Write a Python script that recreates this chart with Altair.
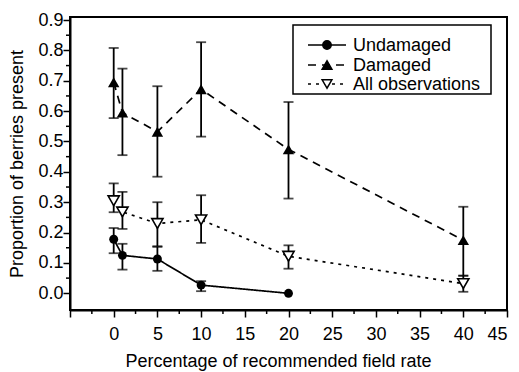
import altair as alt
import pandas as pd

# ---- data ----
x_und = [0, 1, 5, 10, 20]
und_mean = [0.178, 0.125, 0.113, 0.027, 0.0]
und_lo = [0.132, 0.078, 0.074, 0.007, 0.0]
und_hi = [0.215, 0.163, 0.153, 0.040, 0.0]

x_all = [0, 1, 5, 10, 20, 40]
dam_mean = [0.695, 0.595, 0.532, 0.672, 0.474, 0.175]
dam_lo = [0.577, 0.455, 0.384, 0.516, 0.312, 0.058]
dam_hi = [0.808, 0.740, 0.682, 0.827, 0.630, 0.285]

obs_mean = [0.305, 0.268, 0.230, 0.242, 0.122, 0.032]
obs_lo = [0.267, 0.212, 0.155, 0.166, 0.081, 0.005]
obs_hi = [0.362, 0.334, 0.300, 0.323, 0.158, 0.058]

series_names = ["Undamaged", "Damaged", "All observations"]
x_ticks = [-5, 0, 5, 10, 15, 20, 25, 30, 35, 40, 45]
x_minor = [-2.5, 2.5, 7.5, 12.5, 17.5, 22.5, 27.5, 32.5, 37.5, 42.5]
y_ticks = [0.0, 0.1, 0.2, 0.3, 0.4, 0.5, 0.6, 0.7, 0.8, 0.9]
y_minor = [0.05, 0.15, 0.25, 0.35, 0.45, 0.55, 0.65, 0.75, 0.85]

rows = []
for i, x in enumerate(x_und):
    rows.append(dict(series="Undamaged", x=x, y=und_mean[i], lo=und_lo[i], hi=und_hi[i]))
for i, x in enumerate(x_all):
    rows.append(dict(series="Damaged", x=x, y=dam_mean[i], lo=dam_lo[i], hi=dam_hi[i]))
for i, x in enumerate(x_all):
    rows.append(dict(series="All observations", x=x, y=obs_mean[i], lo=obs_lo[i], hi=obs_hi[i]))
df = pd.DataFrame(rows)

W, H = 437, 293
FONT = "Liberation Sans"

xs = alt.Scale(domain=[-5, 45], nice=False, zero=False)
ys = alt.Scale(domain=[-0.055, 0.91], nice=False, zero=False)

xaxis = alt.Axis(
    values=x_ticks, labelExpr="datum.value < 0 ? '' : datum.label",
    title="Percentage of recommended field rate", grid=False, labelOverlap=False,
    tickSize=7, tickWidth=1.5, labelPadding=8, titlePadding=9, titleX=208)
yaxis = alt.Axis(
    values=y_ticks, format=".1f", title="Proportion of berries present", grid=False,
    labelOverlap=False, tickSize=7, tickWidth=1.5, labelPadding=0, titlePadding=11)

X = alt.X("x:Q", scale=xs, axis=xaxis)
Y = alt.Y("y:Q", scale=ys, axis=yaxis)
YLO = alt.Y("lo:Q", scale=ys, axis=yaxis)
YHI = alt.Y("hi:Q", scale=ys, axis=yaxis)

base = alt.Chart(df)

dash_map = {"Undamaged": [1, 0], "Damaged": [8, 6], "All observations": [3, 5]}
layers = []
for name in series_names:
    sub = base.transform_filter(alt.datum.series == name)
    layers.append(sub.mark_line(color="black", strokeWidth=1.7,
                                strokeDash=dash_map[name]).encode(x=X, y=Y))

eb = base.transform_filter("datum.hi > datum.lo")
layers.append(eb.mark_rule(color="black", strokeWidth=1.8).encode(x=X, y=YLO, y2="hi:Q"))
layers.append(eb.mark_tick(color="black", thickness=1.8, size=10, orient="horizontal").encode(x=X, y=YLO))
layers.append(eb.mark_tick(color="black", thickness=1.8, size=10, orient="horizontal").encode(x=X, y=YHI))

layers.append(base.transform_filter(alt.datum.series == "Undamaged").mark_point(
    shape="circle", filled=True, color="black", size=80, opacity=1).encode(x=X, y=Y))
layers.append(base.transform_filter(alt.datum.series == "Damaged").mark_point(
    shape="triangle-up", filled=True, color="black", size=130, opacity=1).encode(x=X, y=Y))
layers.append(base.transform_filter(alt.datum.series == "All observations").mark_point(
    shape="triangle-down", filled=True, fill="white", stroke="black", strokeWidth=1.6,
    size=125, opacity=1).encode(x=X, y=Y))

# minor ticks
mx = pd.DataFrame({"x": x_minor})
layers.append(alt.Chart(mx).mark_rule(color="black", strokeWidth=1.5).encode(
    x=X, y=alt.value(H), y2=alt.value(H + 4)))
my = pd.DataFrame({"y": y_minor})
layers.append(alt.Chart(my).mark_rule(color="black", strokeWidth=1.5).encode(
    y=Y, x=alt.value(-4), x2=alt.value(0)))

# legend box
lg = pd.DataFrame({"series": series_names})
layers.append(alt.Chart(lg).transform_filter(alt.datum.series == "Undamaged").mark_rect(
    fill="white", stroke="black", strokeWidth=1.5).encode(
    x=alt.value(223), x2=alt.value(421), y=alt.value(8), y2=alt.value(77)))
leg_y = [28, 48, 67]
leg_shape = [("circle", "black", 70), ("triangle-up", "black", 95), ("triangle-down", "white", 95)]
for i, name in enumerate(series_names):
    one = alt.Chart(lg).transform_filter(alt.datum.series == name)
    layers.append(one.mark_rule(color="black", strokeWidth=1.6, strokeDash=dash_map[name]).encode(
        x=alt.value(238), x2=alt.value(276), y=alt.value(leg_y[i])))
    shp, fill, sz = leg_shape[i]
    layers.append(one.mark_point(shape=shp, filled=True, fill=fill, stroke="black",
                                 strokeWidth=1.5, size=sz, opacity=1).encode(
        x=alt.value(257), y=alt.value(leg_y[i])))
    layers.append(one.mark_text(align="left", baseline="middle", font=FONT, fontSize=18,
                                color="black").encode(
        x=alt.value(283), y=alt.value(leg_y[i] + 1), text="series:N"))

chart = alt.layer(*layers).properties(
    width=W, height=H,
    padding={"left": 70, "top": 17, "right": 12, "bottom": 62},
    autosize="none",
    background="white",
).configure_view(stroke="black", strokeWidth=2).configure_axis(
    domainColor="black", domainWidth=2, tickColor="black",
    labelColor="black", titleColor="black",
    labelFont=FONT, titleFont=FONT, labelFontSize=18, titleFontSize=18,
    titleFontWeight="normal",
)

chart.save("out.html", embed_options={"renderer": "svg", "actions": False})
